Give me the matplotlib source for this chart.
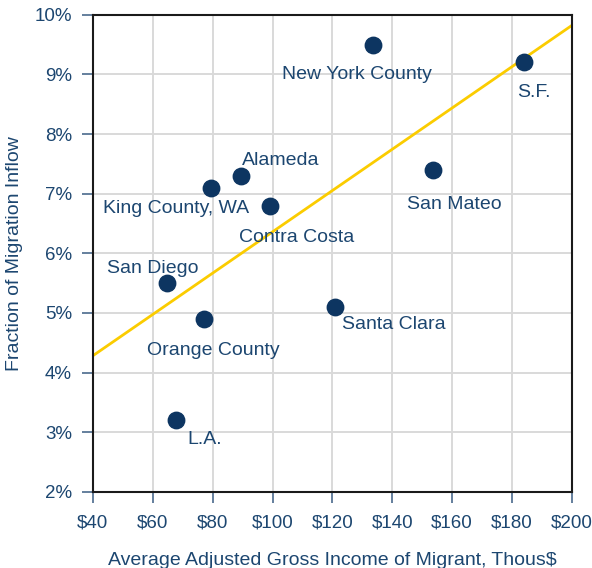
import numpy as np
import matplotlib.pyplot as plt
from matplotlib.ticker import FuncFormatter

# Data
names = ["New York County", "S.F.", "San Mateo", "Alameda", "King County, WA",
         "Contra Costa", "San Diego", "Santa Clara", "Orange County", "L.A."]
income = [133.5, 184.0, 153.6, 89.4, 79.4, 99.1, 64.7, 120.8, 77.0, 67.7]
inflow = [9.5, 9.2, 7.4, 7.3, 7.1, 6.8, 5.5, 5.1, 4.9, 3.2]

# label offsets in pixels (text centre relative to point)
label_offsets = [(-16, -28), (10, -28), (21, -33), (40, 17), (-35, -19),
                 (27, -30), (-14, 17), (59, -15), (10, -30), (29, -17)]

navy = "#0d3561"
text_col = "#1c4670"
plt.rcParams['font.family'] = ['Liberation Sans', 'DejaVu Sans']

fig = plt.figure(figsize=(5.92, 5.68), dpi=100)
ax = fig.add_axes([0.157, 0.134, 0.809, 0.840])

ax.set_xlim(40, 200)
ax.set_ylim(2, 10)
ax.set_xticks(np.arange(40, 201, 20))
ax.set_yticks(np.arange(2, 11, 1))
ax.grid(True, color="#d9d9d9", linewidth=1.4)
ax.set_axisbelow(True)

# trend line (least squares)
slope, icpt = np.polyfit(income, inflow, 1)
xs = np.array([40, 200])
ax.plot(xs, slope * xs + icpt, color="#fbcc00", linewidth=2, zorder=2)

ax.scatter(income, inflow, s=140, color=navy, zorder=3)

for n, x, y, off in zip(names, income, inflow, label_offsets):
    ax.annotate(n, (x, y), xytext=off, textcoords="offset pixels",
                ha="center", va="center_baseline", fontsize=14, color=text_col)

ax.xaxis.set_major_formatter(FuncFormatter(lambda v, p: f"${v:.0f}"))
ax.yaxis.set_major_formatter(FuncFormatter(lambda v, p: f"{v:.0f}%"))
ax.tick_params(axis="both", direction="out", length=8, width=1.2,
               color="#4a6a8c", labelcolor=text_col, labelsize=13.5, pad=7)
ax.tick_params(axis="x", pad=8)

for s in ax.spines.values():
    s.set_color("#1a1a1a")
    s.set_linewidth(1.5)

ax.set_xlabel("Average Adjusted Gross Income of Migrant, Thous$",
              fontsize=14, color=text_col, labelpad=15)
ax.set_ylabel("Fraction of Migration Inflow", fontsize=14, color=text_col, labelpad=8)

fig.savefig("out.png", dpi=100)
